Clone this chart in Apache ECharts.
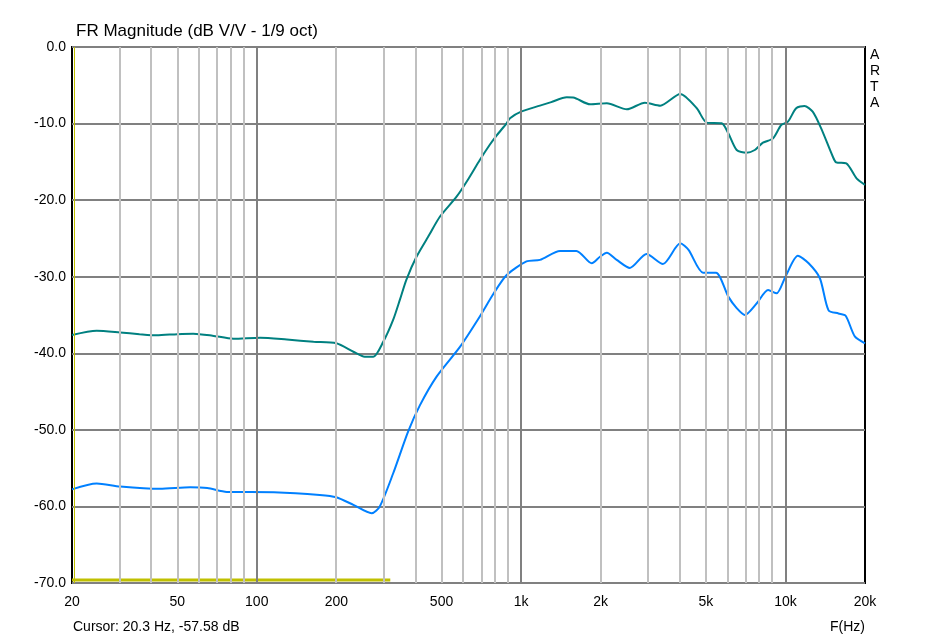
<!DOCTYPE html>
<html>
<head>
<meta charset="utf-8">
<script src="https://cdn.jsdelivr.net/npm/echarts@6/dist/echarts.min.js"></script>
<style>
  html, body { margin: 0; padding: 0; background: #fff; }
  #app { width: 937px; height: 641px; }
</style>
</head>
<body>
<div id="app"></div>
<script>
// frequency ticks (Hz) and their labels
const tickFreqs = [20, 50, 100, 200, 500, 1000, 2000, 5000, 10000, 20000];
const tickLabels = ["20", "50", "100", "200", "500", "1k", "2k", "5k", "10k", "20k"];
const minorFreqs = [30, 40, 50, 60, 70, 80, 90, 200, 300, 400, 500, 600, 700, 800, 900,
  2000, 3000, 4000, 5000, 6000, 7000, 8000, 9000];
const majorFreqs = [100, 1000, 10000];

// upper (teal) response
const tealFreq = [20, 24.8, 30.4, 36, 41.8, 50, 57.5, 68, 81.6, 103, 130, 164, 200, 232, 256, 276,
  301, 328, 348, 368, 402, 450, 492, 570, 630, 698, 760, 810, 880, 908, 1000, 1178, 1300, 1488,
  1574, 1824, 2110, 2512, 2940, 3360, 4000, 4620, 5040, 5740, 6080, 6540, 7120, 7660, 8220,
  8980, 9640, 10220, 10980, 11800, 12680, 13640, 15100, 15550, 17000, 18580, 20000];
const tealDb = [-37.6, -37.05, -37.27, -37.5, -37.65, -37.5, -37.44, -37.7, -38.1, -37.96, -38.2,
  -38.5, -38.7, -39.8, -40.45, -40.45, -38.5, -35.65, -33.0, -30.4, -27.4, -24.5, -22.2, -19.55,
  -17.3, -14.76, -12.8, -11.5, -10.0, -9.3, -8.45, -7.66, -7.2, -6.57, -6.6, -7.49, -7.36, -8.14,
  -7.27, -7.66, -6.14, -8.0, -9.88, -9.97, -11.27, -13.45, -13.8, -13.45, -12.5, -11.93, -10.19,
  -9.75, -8.0, -7.7, -8.45, -10.6, -14.3, -15.06, -15.2, -17.15, -18.0];

// lower (blue) response
const blueFreq = [20, 24.8, 30.4, 43, 56, 65, 77, 116, 173, 200, 232, 272, 292, 328, 374, 414,
  479, 588, 698, 788, 882, 1048, 1178, 1404, 1620, 1850, 1988, 2110, 2300, 2580, 2980, 3440,
  4000, 4300, 4880, 5460, 6080, 6540, 7020, 7780, 8600, 9260, 10000, 11140, 12240, 13500,
  14560, 15870, 16900, 18300, 20000];
const blueDb = [-57.77, -57.0, -57.4, -57.7, -57.5, -57.6, -58.1, -58.15, -58.5, -58.8, -59.8,
  -60.9, -60.0, -55.7, -50.2, -46.8, -43.05, -39.14, -35.2, -32.17, -29.78, -28.0, -27.8, -26.64,
  -26.64, -28.25, -27.39, -26.86, -27.8, -28.85, -27.03, -28.34, -25.64, -26.5, -29.47, -29.47,
  -32.6, -34.1, -35.0, -33.5, -31.74, -32.17, -30.0, -27.26, -28.25, -30.2, -34.4, -34.8, -35.1,
  -37.8, -38.7];

// yellow marker bar near the bottom, and the cursor
const markerSpan = [20, 320];
const markerLevel = -69.6;
const cursorFreq = 20.3;

const lg = Math.log10;
const pairs = (fs, ds) => fs.map((f, i) => [lg(f), ds[i]]);

const gridLines = minorFreqs.map(f => ({
  xAxis: lg(f), lineStyle: { color: "#c0c0c0", width: 2, type: "solid" }
})).concat(majorFreqs.map(f => ({
  xAxis: lg(f), lineStyle: { color: "#808080", width: 2, type: "solid" }
})));

const font = "Liberation Sans, Arial, sans-serif";

const chart = echarts.init(document.getElementById("app"));
chart.setOption({
  animation: false,
  grid: {
    left: 72, right: 72, top: 47, bottom: 58,
    show: true, borderColor: "#000", borderWidth: 2, backgroundColor: "#fff"
  },
  xAxis: {
    type: "value",
    min: lg(20), max: lg(20000),
    axisLine: { show: false },
    axisTick: { show: false },
    splitLine: { show: false },
    axisLabel: {
      customValues: tickFreqs.map(lg),
      margin: 12,
      color: "#000", fontFamily: font, fontSize: 14,
      showMinLabel: true, showMaxLabel: true,
      formatter: v => {
        const i = tickFreqs.findIndex(f => Math.abs(lg(f) - v) < 1e-6);
        return i >= 0 ? tickLabels[i] : "";
      }
    }
  },
  yAxis: {
    type: "value",
    min: -70, max: 0, interval: 10,
    axisLine: { show: false },
    axisTick: { show: false },
    splitLine: { lineStyle: { color: "#808080", width: 2 } },
    axisLabel: {
      margin: 6,
      color: "#000", fontFamily: font, fontSize: 14,
      formatter: v => v.toFixed(1)
    }
  },
  graphic: [
    { type: "text", left: 76, top: 23,
      style: { text: "FR Magnitude (dB V/V - 1/9 oct)", font: "17px " + font, fill: "#000" } },
    { type: "text", left: 870, top: 47,
      style: { text: "A\nR\nT\nA", font: "14px " + font, lineHeight: 16, fill: "#000" } },
    { type: "text", left: 73, top: 620,
      style: { text: "Cursor: 20.3 Hz, -57.58 dB", font: "14px " + font, fill: "#000" } },
    { type: "text", right: 72, top: 620,
      style: { text: "F(Hz)", font: "14px " + font, fill: "#000" } }
  ],
  series: [
    {
      name: "grid",
      type: "line",
      data: [],
      z: 1,
      markLine: {
        silent: true, symbol: "none", label: { show: false },
        data: gridLines
      }
    },
    {
      name: "marker",
      type: "line",
      z: 2,
      symbol: "none",
      lineStyle: { color: "#c0c000", width: 3 },
      data: markerSpan.map(f => [lg(f), markerLevel]),
      markLine: {
        silent: true, symbol: "none", label: { show: false },
        data: [{ xAxis: lg(cursorFreq), lineStyle: { color: "#c0c000", width: 1, type: "solid" } }]
      }
    },
    {
      name: "teal",
      type: "line",
      z: 3,
      symbol: "none",
      smooth: 0.25,
      lineStyle: { color: "#008080", width: 2 },
      data: pairs(tealFreq, tealDb)
    },
    {
      name: "blue",
      type: "line",
      z: 3,
      symbol: "none",
      smooth: 0.25,
      lineStyle: { color: "#0080ff", width: 2 },
      data: pairs(blueFreq, blueDb)
    }
  ]
});
</script>
</body>
</html>
